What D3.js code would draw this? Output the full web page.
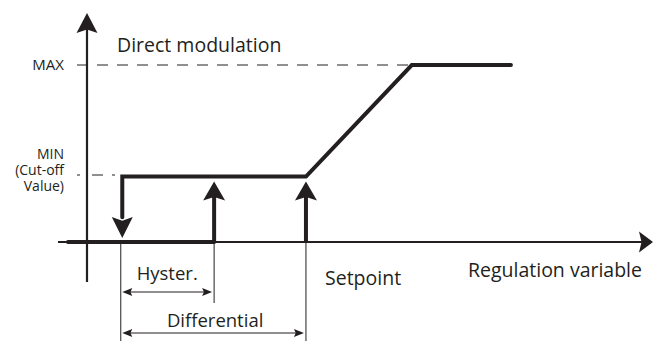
<!DOCTYPE html>
<html>
<head>
<meta charset="utf-8">
<script src="https://cdn.jsdelivr.net/npm/d3@7"></script>
<style>
  body { margin: 0; background: #fff; }
  svg { display: block; }
  text { font-family: "Open Sans", sans-serif; fill: #231f20; }
</style>
</head>
<body>
<svg width="653" height="341"></svg>
<script>
var svg = d3.select('svg');
var ink = '#231f20';

// regulation variable (arbitrary units) and output (%)
var cutoff = 6.3;       // output drops to 0 here
var hystEnd = 22.7;     // output switches back on here
var setpoint = 39.1;    // modulation starts
var maxReach = 58;      // output reaches MAX
var curveEnd = 75.7;

var levelNames = ['MAX', 'MIN'];
var levelValues = [100, 37];

// thick output curve
var onCurveX = [cutoff, setpoint, maxReach, curveEnd];
var onCurveY = [37, 37, 100, 100];
var offCurveX = [-3.4, hystEnd];
var offCurveY = [0, 0];

// switching arrows
var arrowX = [cutoff, hystEnd, setpoint];
var arrowDir = ['down', 'up', 'up'];

// dimension markers
var dimLabels = ['Hyster.', 'Differential'];
var dimFrom = [cutoff, cutoff];
var dimTo = [hystEnd, setpoint];

var x = d3.scaleLinear().domain([0, 100]).range([87, 647]);
var y = d3.scaleLinear().domain([0, 100]).range([242, 65]);

// triangle arrowhead with a small notch, tip at (tx,ty)
function head(tx, ty, dir, len, half) {
  var notch = len * 0.18;
  var ux = 0, uy = 0;
  if (dir == 'up') uy = 1;
  if (dir == 'down') uy = -1;
  if (dir == 'right') ux = -1;
  if (dir == 'left') ux = 1;
  var bx = tx + ux * len, by = ty + uy * len;
  var px = -uy, py = ux;
  var p = d3.path();
  p.moveTo(tx, ty);
  p.lineTo(bx + px * half, by + py * half);
  p.lineTo(tx + ux * (len - notch), ty + uy * (len - notch));
  p.lineTo(bx - px * half, by - py * half);
  p.closePath();
  return p.toString();
}

//////////////////// axes ////////////////////
svg.append('line')
  .attr('x1', x(0)).attr('x2', x(0))
  .attr('y1', 282).attr('y2', 28)
  .attr('stroke', ink).attr('stroke-width', 2.2);
svg.append('path').attr('d', head(x(0), 13, 'up', 20, 10.5)).attr('fill', ink);

svg.append('line')
  .attr('x1', 58).attr('x2', 642)
  .attr('y1', y(0)).attr('y2', y(0))
  .attr('stroke', ink).attr('stroke-width', 2.2);
svg.append('path').attr('d', head(653, y(0), 'right', 14, 10.5)).attr('fill', ink);

//////////////////// dashed level lines + labels ////////////////////
svg.append('line')
  .attr('x1', 77).attr('x2', x(maxReach))
  .attr('y1', y(levelValues[0])).attr('y2', y(levelValues[0]))
  .attr('stroke', ink).attr('stroke-width', 1)
  .attr('stroke-dasharray', '11,9');
svg.append('line')
  .attr('x1', 77).attr('x2', x(cutoff))
  .attr('y1', y(levelValues[1]) - 1.5).attr('y2', y(levelValues[1]) - 1.5)
  .attr('stroke', ink).attr('stroke-width', 1)
  .attr('stroke-dasharray', '3,12,11,9');

svg.append('text')
  .attr('x', 64).attr('y', y(levelValues[0]) + 5)
  .attr('text-anchor', 'end').style('font-size', '15px')
  .text(levelNames[0]);

var minLines = [levelNames[1], '(Cut-off', 'Value)'];
svg.selectAll('text.minlab')
  .data(minLines)
  .join('text')
    .attr('class', 'minlab')
    .attr('text-anchor', 'end').style('font-size', '14px')
    .attr('x', 64)
    .attr('y', (d, i) => 158.5 + i * 16.3)
    .text(d => d);

svg.append('text')
  .attr('x', 117).attr('y', 52)
  .style('font-size', '19.5px')
  .text('Direct modulation');

//////////////////// output curve ////////////////////
var line = d3.line().x(d => x(d[0])).y(d => y(d[1]));

var onPts = onCurveX.map((v, i) => [v, onCurveY[i]]);
// start the on-curve at the top of the down arrow head
onPts.unshift([cutoff, 14]);
svg.append('path')
  .attr('d', line(onPts))
  .attr('fill', 'none').attr('stroke', ink)
  .attr('stroke-width', 4).attr('stroke-linecap', 'round')
  .attr('stroke-linejoin', 'miter');

svg.append('path')
  .attr('d', line(offCurveX.map((v, i) => [v, offCurveY[i]])))
  .attr('fill', 'none').attr('stroke', ink)
  .attr('stroke-width', 4).attr('stroke-linecap', 'round');

// switching arrows: down where output cuts off, up where it comes back
arrowX.forEach(function (v, i) {
  if (arrowDir[i] == 'up') {
    svg.append('line')
      .attr('x1', x(v)).attr('x2', x(v))
      .attr('y1', y(0)).attr('y2', y(levelValues[1]) + 20)
      .attr('stroke', ink).attr('stroke-width', 4);
    svg.append('path').attr('d', head(x(v), y(levelValues[1]) + 5, 'up', 19, 11)).attr('fill', ink);
  } else {
    svg.append('path').attr('d', head(x(v), y(0) - 4, 'down', 21, 10.5)).attr('fill', ink);
  }
});

//////////////////// dimension lines ////////////////////
var dimBottom = [341, 303, 341];
[cutoff, hystEnd, setpoint].forEach(function (v, i) {
  svg.append('line')
    .attr('x1', x(v) - (i == 0 ? 1.5 : 0)).attr('x2', x(v) - (i == 0 ? 1.5 : 0))
    .attr('y1', y(0)).attr('y2', dimBottom[i])
    .attr('stroke', ink).attr('stroke-width', 1);
});

var dimY = [292, 333];
var labelY = [280, 327];
dimLabels.forEach(function (lab, i) {
  var x0 = x(dimFrom[i]) - 1, x1 = x(dimTo[i]) - 1;
  svg.append('line')
    .attr('x1', x0 + 6).attr('x2', x1 - 6)
    .attr('y1', dimY[i]).attr('y2', dimY[i])
    .attr('stroke', ink).attr('stroke-width', 1.2);
  svg.append('path').attr('d', head(x0 + 1, dimY[i], 'left', 10, 4)).attr('fill', ink);
  svg.append('path').attr('d', head(x1 - 1, dimY[i], 'right', 10, 4)).attr('fill', ink);
  svg.append('text')
    .attr('x', (x0 + x1) / 2 + (i == 0 ? 0 : 2)).attr('y', labelY[i])
    .attr('text-anchor', 'middle').style('font-size', '18.5px')
    .text(lab);
});

svg.append('text')
  .attr('x', 325).attr('y', 285)
  .style('font-size', '19.5px')
  .text('Setpoint');

svg.append('text')
  .attr('x', 642).attr('y', 277)
  .attr('text-anchor', 'end').style('font-size', '19.5px')
  .text('Regulation variable');
</script>
</body>
</html>
